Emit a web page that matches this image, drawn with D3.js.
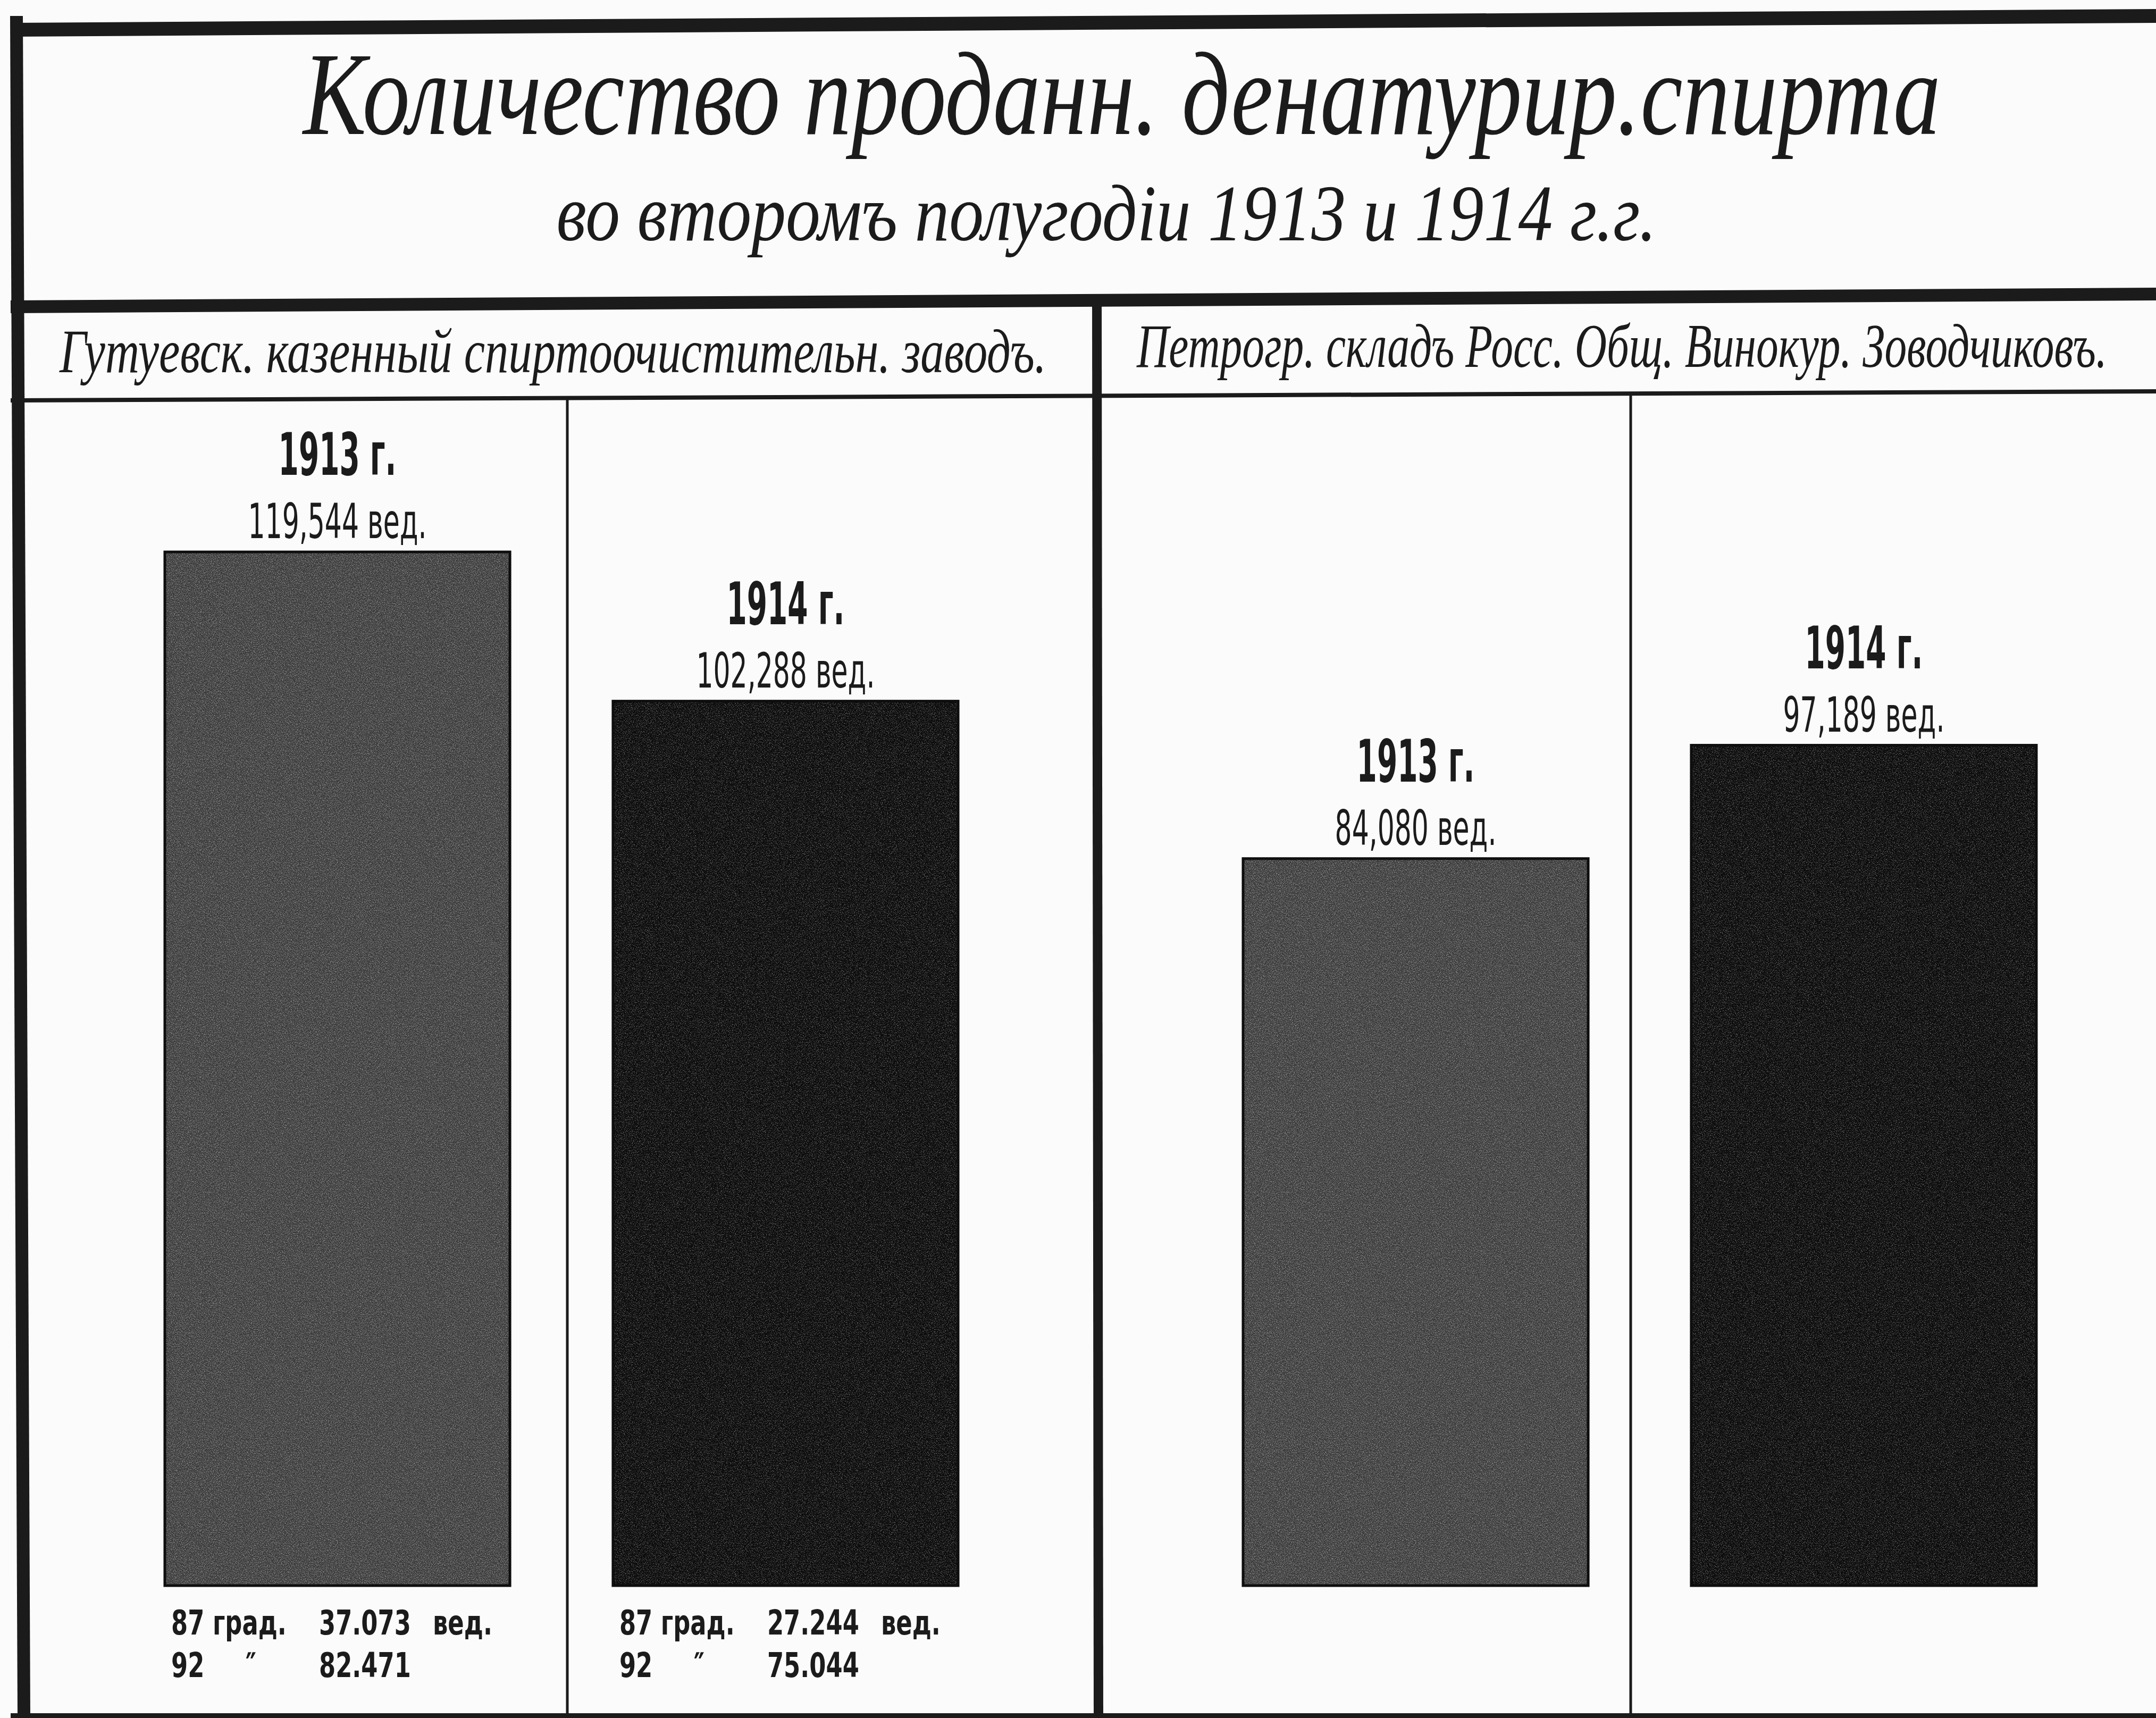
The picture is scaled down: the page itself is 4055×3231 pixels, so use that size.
<!DOCTYPE html>
<html>
<head>
<meta charset="utf-8">
<script src="https://cdn.jsdelivr.net/npm/d3@7"></script>
<style>
  html, body { margin: 0; padding: 0; background: #fbfbfb; }
  svg { display: block; }
</style>
</head>
<body>
<script>
// ---------------- DATA ----------------
const titleLines = ["Количество проданн. денатурир.спирта", "во второмъ полугодіи 1913 и 1914 г.г."];
const groups = ["Гутуевск. казенный спиртоочистительн. заводъ.", "Петрогр. складъ Росс. Общ. Винокур. Зоводчиковъ."];
const years = ["1913", "1914"];
const yearLabels = ["1913 г.", "1914 г."];
const gutuevskValues = [119544, 102288];   // вёдер
const petrogradValues = [84080, 97189];    // вёдер
const grade87 = [37073, 27244];            // 87 град., Гутуевск. завод
const grade92 = [82471, 75044];            // 92 град., Гутуевск. завод
const gradeLabels = ["87 град.", "92"];
const unit = "вед.";

// ---------------- SETUP ----------------
const W = 4055, H = 3231;
const ink = "#1b1b1b";
const svg = d3.select("body").append("svg").attr("width", W).attr("height", H);
svg.append("rect").attr("width", W).attr("height", H).attr("fill", "#fbfbfb");

const defs = svg.append("defs");
function grainFilter(id, alphaGain, alphaOffset) {
  const f = defs.append("filter").attr("id", id).attr("x", 0).attr("y", 0).attr("width", 1).attr("height", 1);
  f.append("feTurbulence").attr("type", "fractalNoise").attr("baseFrequency", 0.6).attr("numOctaves", 2).attr("seed", 7).attr("result", "n");
  f.append("feColorMatrix").attr("in", "n").attr("type", "matrix")
    .attr("values", `0 0 0 0 1  0 0 0 0 1  0 0 0 0 1  ${alphaGain} 0 0 0 ${alphaOffset}`).attr("result", "w");
  f.append("feComposite").attr("in", "w").attr("in2", "SourceGraphic").attr("operator", "in").attr("result", "wc");
  const fm = f.append("feMerge");
  fm.append("feMergeNode").attr("in", "SourceGraphic");
  fm.append("feMergeNode").attr("in", "wc");
}
grainFilter("grain0", 0.7, -0.33);
grainFilter("grain1", 0.5, -0.27);

// ---------------- FRAME ----------------
const frame = svg.append("g").attr("stroke", ink).attr("stroke-linecap", "butt");
const lines = [
  [20, 56, W, 30, 26],      // top border
  [20, 577, W, 553, 24],    // under title
  [20, 753, W, 736, 8],     // under headers
  [31, 30, 45, H, 24],      // left border
  [2063, 553, 2066, H, 18], // main divider
  [1067, 752, 1067, H, 5],  // thin divider left
  [3067, 737, 3067, H, 5],  // thin divider right
  [20, 3228, W, 3228, 12]   // bottom border
];
frame.selectAll("line").data(lines).join("line")
  .attr("x1", d => d[0]).attr("y1", d => d[1]).attr("x2", d => d[2]).attr("y2", d => d[3])
  .attr("stroke-width", d => d[4]);

// helper: place text so that its rendered width equals target width (horizontal scale only)
function fitText(sel, x, y, target, anchor) {
  sel.each(function() {
    const t = d3.select(this).attr("x", 0).attr("y", 0).attr("text-anchor", anchor);
    const w = this.getComputedTextLength();
    t.attr("transform", `translate(${x},${y}) scale(${target / w},1)`);
  });
}

// ---------------- TITLES ----------------
const scriptFont = "'Liberation Serif', 'DejaVu Serif', serif";
fitText(svg.append("text").text(titleLines[0])
  .attr("font-family", scriptFont).attr("font-style", "italic").attr("font-size", 222).attr("fill", ink),
  2110, 252, 3080, "middle");
fitText(svg.append("text").text(titleLines[1])
  .attr("font-family", scriptFont).attr("font-style", "italic").attr("font-size", 150).attr("fill", ink),
  2081, 452, 2069, "middle");

// ---------------- SCALES ----------------
const allValues = gutuevskValues.concat(petrogradValues);
const y = d3.scaleLinear().domain([0, d3.max(allValues)]).range([2982, 1038]);
const xGroup = d3.scaleBand().domain(groups).range([36, 4092]);
const xYear = d3.scaleBand().domain(years).range([274, 1766]).paddingInner(0.23);

const headerX = [112, 2138], headerLen = [1856, 1825], headerY = [700, 690];
svg.selectAll("text.header").data(groups).join("text").attr("class", "header")
  .text(d => d)
  .attr("font-family", scriptFont).attr("font-style", "italic").attr("font-size", 116)
  .attr("fill", ink)
  .each(function(d, i) { fitText(d3.select(this), headerX[i], headerY[i], headerLen[i], "start"); });

// ---------------- BARS ----------------
const barData = [];
groups.forEach((g, gi) => {
  const vals = gi === 0 ? gutuevskValues : petrogradValues;
  years.forEach((yr, yi) => barData.push({ group: g, gi, year: yr, yi, value: vals[yi] }));
});
const barColor = ["#3a3a3a", "#101010"];

const bars = svg.append("g").selectAll("g").data(barData).join("g")
  .attr("transform", d => `translate(${xGroup(d.group)},0)`);

bars.append("rect")
  .attr("x", d => xYear(d.year)).attr("width", xYear.bandwidth())
  .attr("y", d => y(d.value)).attr("height", d => y(0) - y(d.value))
  .attr("fill", d => barColor[d.yi]).attr("filter", d => `url(#grain${d.yi})`);
bars.append("rect")
  .attr("x", d => xYear(d.year)).attr("width", xYear.bandwidth())
  .attr("y", d => y(d.value)).attr("height", d => y(0) - y(d.value))
  .attr("fill", "none").attr("stroke", "#0e0e0e").attr("stroke-width", 5);

const labelFont = "'DejaVu Sans', 'Liberation Sans', sans-serif";
const fmtComma = d3.format(",");
bars.append("text")
  .attr("transform", d => `translate(${xYear(d.year) + xYear.bandwidth() / 2},${y(d.value) - 145}) scale(0.5,1)`)
  .attr("text-anchor", "middle").attr("font-family", labelFont).attr("font-weight", "bold")
  .attr("font-size", 110).attr("fill", ink)
  .text(d => yearLabels[d.yi]);
bars.append("text")
  .attr("transform", d => `translate(${xYear(d.year) + xYear.bandwidth() / 2},${y(d.value) - 26}) scale(0.56,1)`)
  .attr("text-anchor", "middle").attr("font-family", labelFont)
  .attr("font-size", 90).attr("fill", ink)
  .text(d => fmtComma(d.value) + " " + unit);

// ---------------- BREAKDOWN (Гутуевск.) ----------------
const dotFmt = d3.formatLocale({ decimal: ",", thousands: ".", grouping: [3], currency: ["", ""] }).format(",");
const brk = svg.append("g").attr("transform", `translate(${xGroup(groups[0])},0)`)
  .selectAll("g").data(years).join("g")
  .attr("transform", d => `translate(${xYear(d)},0)`);
const smallText = (sel, x, yy, txt) => sel.append("text")
  .attr("transform", `translate(${x},${yy}) scale(0.7,1)`)
  .attr("font-family", labelFont).attr("font-weight", "bold").attr("font-size", 64).attr("fill", ink)
  .text(txt);
brk.each(function(d, i) {
  const s = d3.select(this);
  smallText(s, 12, 3074, gradeLabels[0]);
  smallText(s, 290, 3074, dotFmt(grade87[i]));
  smallText(s, 504, 3074, unit);
  smallText(s, 12, 3154, gradeLabels[1]);
  smallText(s, 152, 3154, "″");
  smallText(s, 290, 3154, dotFmt(grade92[i]));
});
</script>
</body>
</html>
